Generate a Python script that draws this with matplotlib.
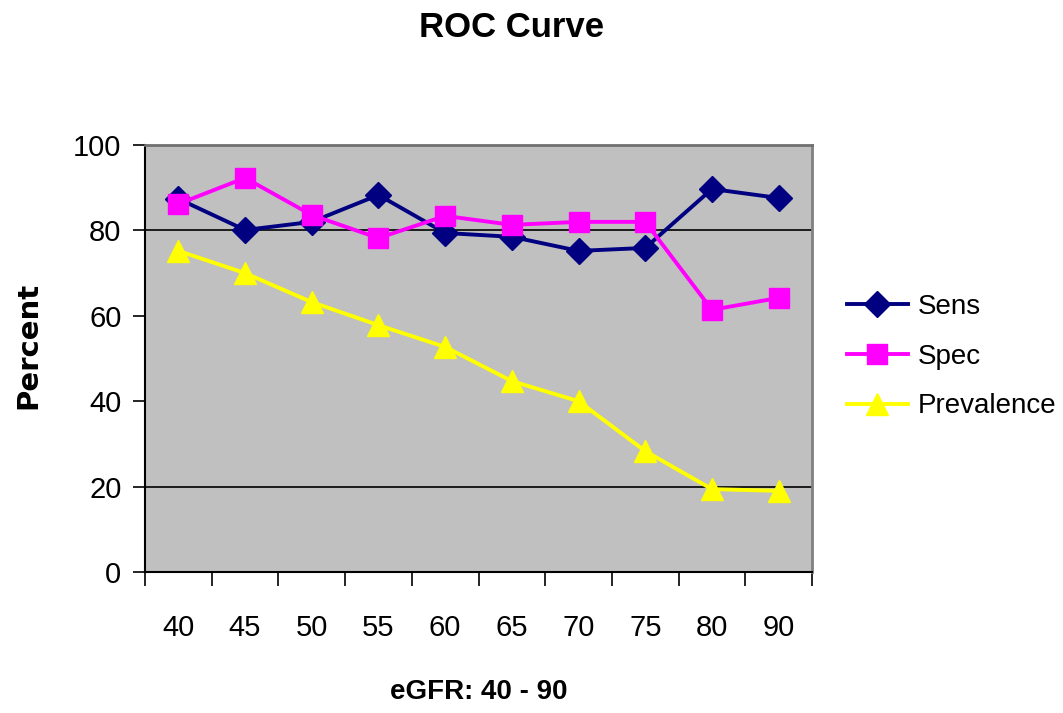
import matplotlib
matplotlib.use("Agg")
import matplotlib.pyplot as plt
from matplotlib import font_manager

names = {f.name for f in font_manager.fontManager.ttflist}
narrow = "Liberation Sans Narrow" if "Liberation Sans Narrow" in names else "Liberation Sans"
plt.rcParams['font.family'] = [narrow, 'DejaVu Sans']

# data
categories = ["40", "45", "50", "55", "60", "65", "70", "75", "80", "90"]
sens = [87.4, 80.1, 82.0, 88.3, 79.4, 78.5, 75.2, 75.9, 89.7, 87.6]
spec = [86.2, 92.3, 83.6, 78.2, 83.4, 81.3, 82.0, 82.0, 61.4, 64.2]
prevalence = [75.2, 70.0, 63.2, 57.8, 52.7, 44.7, 40.0, 28.3, 19.4, 19.0]
y_ticks = [0, 20, 40, 60, 80, 100]
grid_at = [20, 80]

fig = plt.figure(figsize=(10.63, 7.13), dpi=100)
ax = fig.add_axes([0.1364, 0.1978, 0.6275, 0.5988])
ax.set_facecolor("#C0C0C0")

x = list(range(len(categories)))
ax.plot(x, sens, color="#000080", lw=2.8, marker="D", ms=13, label="Sens", zorder=3)
ax.plot(x, spec, color="#FF00FF", lw=2.8, marker="s", ms=15, label="Spec", zorder=3)
ax.plot(x, prevalence, color="#FFFF00", lw=2.8, marker="^", ms=16, label="Prevalence", zorder=3)

for g in grid_at:
    ax.axhline(g, color="black", lw=1.2, zorder=1)

ax.set_xlim(-0.5, len(categories) - 0.5)
ax.set_ylim(0, 100)
ax.set_yticks(y_ticks)
ax.set_yticklabels([str(t) for t in y_ticks], fontsize=21)
ax.tick_params(axis="y", length=9, width=1.2, pad=8, direction="out")

# category boundary ticks, labels at centers
ax.set_xticks([i - 0.5 for i in range(len(categories) + 1)])
ax.set_xticklabels([])
ax.tick_params(axis="x", length=10, width=1.2, direction="out")
ax.set_xticks(x, minor=True)
ax.set_xticklabels(categories, minor=True, fontsize=21)
ax.tick_params(axis="x", which="minor", length=0, pad=30)

ax.spines["left"].set_color("black")
ax.spines["bottom"].set_color("black")
ax.spines["left"].set_linewidth(1.5)
ax.spines["bottom"].set_linewidth(1.5)
ax.spines["top"].set_color("#707070")
ax.spines["right"].set_color("#808080")
ax.spines["top"].set_linewidth(2)
ax.spines["right"].set_linewidth(2)

fig.text(0.481, 0.962, "ROC Curve", ha="center", va="center", fontsize=25, fontweight="bold")
fig.text(0.45, 0.03, "eGFR: 40 - 90", ha="center", va="center", fontsize=20, fontweight="bold")
fig.text(0.027, 0.516, "Percent", ha="center", va="center", rotation=90, fontsize=21,
         fontweight="bold", family="DejaVu Sans")

leg = fig.legend(loc="upper left", bbox_to_anchor=(0.786, 0.603), frameon=True,
                 fontsize=20, handlelength=2.2, handletextpad=0.35, labelspacing=0.85,
                 borderaxespad=0, fancybox=False, borderpad=0.4)
leg.get_frame().set_edgecolor("white")
leg.get_frame().set_linewidth(0)

fig.savefig("out.png", dpi=100)
